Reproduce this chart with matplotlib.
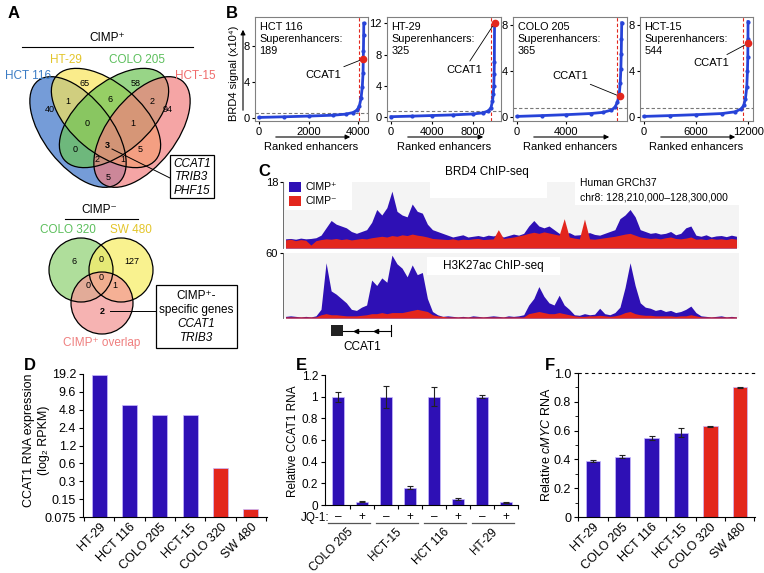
import numpy as np
import matplotlib.pyplot as plt
from matplotlib.patches import Ellipse, Circle, Rectangle
from matplotlib.transforms import blended_transform_factory

plt.rcParams['font.family'] = ['Liberation Sans', 'DejaVu Sans']
plt.rcParams['mathtext.fontset'] = 'custom'
plt.rcParams['mathtext.rm'] = 'Liberation Sans'
plt.rcParams['mathtext.it'] = 'Liberation Sans:italic'
plt.rcParams['font.size'] = 9
plt.rcParams['axes.linewidth'] = 0.8

W, H = 764, 573
BLUE = '#2e10b5'
RED = '#e3261d'

# ---------------- data ----------------
# A: superenhancer-associated genes shared between cell lines
venn4_sets = ['HCT 116', 'HT-29', 'COLO 205', 'HCT-15']
venn4_regions = ['1000', '0100', '0010', '0001', '1100', '0110', '0011', '1110',
                 '0111', '1010', '1111', '0101', '1011', '1101', '1001']
venn4_counts = [40, 65, 58, 94, 1, 6, 2, 0, 1, 0, 3, 5, 2, 1, 5]
shared_genes = ['CCAT1', 'TRIB3', 'PHF15']

venn3_sets = ['COLO 320', 'SW 480', 'CIMP⁺ overlap']
venn3_regions = ['100', '010', '110', '101', '111', '011', '001']
venn3_counts = [6, 127, 0, 0, 0, 1, 2]
specific_genes = ['CCAT1', 'TRIB3']

# B: ranked enhancer plots
b_lines = ['HCT 116', 'HT-29', 'COLO 205', 'HCT-15']
b_n_enh = [4230, 10100, 8550, 12000]
b_n_se = [189, 325, 365, 544]
b_cutoff = [0.6, 0.75, 0.75, 0.75]
b_rank = [
    [0, 1000, 2000, 3000, 3500, 3800, 3950, 4050, 4120, 4170, 4200, 4215, 4225, 4230],
    [0, 2000, 4000, 6000, 8000, 9000, 9500, 9750, 9900, 9980, 10030, 10060, 10080, 10100],
    [0, 2000, 4000, 6000, 7000, 7700, 8000, 8200, 8350, 8430, 8480, 8510, 8530, 8550],
    [0, 3000, 6000, 9000, 10500, 11200, 11500, 11700, 11850, 11930, 11970, 11990, 12000],
]
b_signal = [
    [0.05, 0.12, 0.2, 0.3, 0.42, 0.6, 0.85, 1.3, 2.2, 3.5, 5.0, 7.5, 9.3, 10.6],
    [0.05, 0.12, 0.2, 0.28, 0.4, 0.55, 0.8, 1.2, 2.0, 3.0, 4.0, 5.5, 7.0, 12.0],
    [0.05, 0.12, 0.2, 0.3, 0.4, 0.6, 0.85, 1.3, 2.0, 3.0, 4.2, 5.5, 6.8, 8.2],
    [0.05, 0.12, 0.2, 0.3, 0.45, 0.7, 1.0, 1.6, 2.6, 4.0, 5.2, 6.8, 8.3],
]
b_ccat1_rank = [4210, 10100, 8380, 11985]
b_ccat1_signal = [6.6, 12.0, 1.8, 6.4]
b_xticks = [[0, 2000, 4000], [0, 4000, 8000], [0, 4000], [0, 6000, 12000]]
b_yticks = [[0, 4, 8], [0, 4, 8, 12], [0, 4, 8], [0, 4, 8]]

# C: ChIP-seq tracks, chr8:128,210,000-128,300,000 in 1 kb bins
brd4_pos = [2.5, 2.6, 2.4, 2.7, 2.5, 2.6, 2.8,
            3.5,
            5.5, 7.5, 6.5, 6.0, 5.5,
            4.5, 4.0, 4.5, 5.0,
            7.0, 10.5, 9.0, 11.0,
            15.5, 10.0, 9.0, 8.5, 12.0, 10.0, 9.5,
            6.5, 5.0, 4.5, 4.0,
            3.5, 3.0, 3.3, 3.6, 3.0, 3.2, 3.4, 3.1, 3.5, 3.3, 3.6, 3.0, 3.4, 3.8, 3.5, 4.0,
            6.0, 7.5, 6.0, 5.5, 6.0, 5.0,
            4.0, 3.8, 4.2, 3.5, 3.6, 3.9, 4.2, 3.7, 3.5, 4.0, 4.5, 5.0,
            8.0, 9.0, 10.5, 8.5,
            5.0, 4.5, 4.0, 4.2, 3.8, 4.0, 4.5, 3.6, 4.0, 5.5,
            6.0,
            3.5, 3.2, 3.6, 3.0, 3.3, 3.4, 3.1, 3.5, 3.2]
brd4_neg = [2.2, 2.4, 2.0, 2.3, 2.1, 0.8, 2.0,
            2.3, 2.5, 2.4, 2.6, 2.3, 2.5, 2.2, 2.4, 2.6, 2.5,
            2.8, 3.0, 3.2, 3.0, 3.4, 3.2, 3.6, 3.4, 3.8, 3.5, 3.3, 3.0,
            2.6, 2.5, 2.4, 2.3, 2.5, 2.2, 2.4, 2.3, 2.5, 2.6, 2.3, 2.4, 2.5,
            5.0, 2.6, 2.8, 3.0, 3.3, 3.6,
            4.0, 4.3, 4.0, 4.4, 4.1, 3.8, 3.5,
            8.0, 3.0, 2.7, 2.5, 7.9,
            2.5, 2.4, 2.6, 2.8, 3.0, 3.2, 3.5, 3.8, 4.0, 3.5, 3.0,
            2.8, 2.6, 2.7, 2.5, 2.8, 3.0, 2.6, 2.5, 2.7, 3.0,
            2.4, 2.5, 2.3, 2.6, 2.4, 2.5, 2.3, 2.6, 2.4]
h3_pos = [1.5, 2.0, 1.5, 1.0, 1.5, 1.0, 2.0,
          8.0, 51.0, 25.0,
          22.0, 18.0, 14.0,
          8.0, 7.0, 10.0, 12.0,
          35.0, 30.0, 37.0, 33.0,
          58.0, 50.0, 46.0, 38.0, 49.0, 40.0, 42.0,
          18.0, 6.0, 3.0,
          1.5, 2.0, 1.5, 1.0, 1.5, 1.0, 2.0, 1.5, 1.0, 1.5, 2.0, 1.5, 1.0, 2.0, 1.5, 2.0, 3.0,
          12.0, 18.0, 29.0, 20.0, 14.0, 12.0, 21.0, 12.0, 8.0,
          3.0, 2.5, 4.0, 3.0, 3.5, 9.0,
          4.0, 3.0, 5.0,
          10.0, 28.0, 51.0, 30.0, 14.0, 10.0,
          9.0, 7.0, 8.0, 6.0, 7.0, 5.0,
          6.0, 8.0, 11.0, 5.0,
          2.0, 1.5, 1.0, 1.5, 2.0, 1.0, 1.5, 1.0]
h3_neg = [1.0, 1.0, 1.0, 1.0, 1.0, 1.0, 1.0,
          3.0, 4.0, 3.0, 3.0, 2.5, 2.0,
          2.0, 2.0, 2.5, 3.0,
          4.0, 4.0, 5.0, 4.0, 5.0, 5.0, 5.0, 6.0, 7.0, 8.0, 7.0, 6.0,
          3.0, 2.0, 1.5,
          1.0, 1.0, 1.0, 1.0, 1.0, 1.0, 1.0, 1.0, 1.0, 1.0, 1.0, 1.0, 1.0, 1.0, 1.0, 1.0,
          4.0, 5.0, 6.0, 5.0, 4.0, 4.0, 5.0, 4.0, 3.0,
          2.0, 1.5, 1.5, 2.0, 2.0, 2.5, 2.0, 1.5, 2.0,
          3.0, 5.0, 6.0, 4.0, 3.0, 2.5,
          2.5, 2.0, 2.0, 2.0, 2.0, 1.5, 2.0, 2.0, 3.0, 2.0,
          1.0, 1.0, 1.0, 1.0, 1.0, 1.0, 1.0, 1.0]

# D: CCAT1 RNA-seq
d_lines = ['HT-29', 'HCT 116', 'COLO 205', 'HCT-15', 'COLO 320', 'SW 480']
d_rpkm = [18.5, 5.8, 3.95, 3.85, 0.5, 0.101]
d_cimp = [True, True, True, True, False, False]
d_yticks = [0.075, 0.15, 0.3, 0.6, 1.2, 2.4, 4.8, 9.6, 19.2]

# E: CCAT1 RNA after JQ-1
e_lines = ['COLO 205', 'HCT-15', 'HCT 116', 'HT-29']
e_dmso = [1.0, 1.0, 1.0, 1.0]
e_dmso_err = [0.045, 0.10, 0.09, 0.015]
e_jq1 = [0.03, 0.16, 0.055, 0.025]
e_jq1_err = [0.005, 0.015, 0.01, 0.005]

# F: cMYC RNA
f_lines = ['HT-29', 'COLO 205', 'HCT 116', 'HCT-15', 'COLO 320', 'SW 480']
f_myc = [0.39, 0.42, 0.55, 0.585, 0.63, 0.90]
f_err = [0.006, 0.01, 0.012, 0.03, 0.004, 0.006]
f_cimp = [True, True, True, True, False, False]

# ---------------- figure ----------------
fig = plt.figure(figsize=(W / 100, H / 100), dpi=100)


def px_axes(x0, y0, x1, y1):
    return fig.add_axes([x0 / W, 1 - y1 / H, (x1 - x0) / W, (y1 - y0) / H])


ov = fig.add_axes([0, 0, 1, 1], zorder=10)
ov.set_xlim(0, W)
ov.set_ylim(H, 0)
ov.axis('off')

for letter, x, y in [('A', 8, 13), ('B', 226, 13), ('C', 258, 171),
                     ('D', 24, 366), ('E', 296, 366), ('F', 545, 366)]:
    ov.text(x, y, letter, fontsize=12, fontweight='bold', ha='left', va='center')

# ---- A
ov.text(107, 38, 'CIMP⁺', ha='center', va='center', fontsize=8.5)
ov.plot([22, 193], [47, 47], color='k', lw=0.8)
ell = {'HCT 116': ((78, 132), 130, 68, 52, '#3a72c8', '#3b7cc4'),
       'HT-29': ((106, 118), 130, 70, 40, '#f8e45a', '#e3c52a'),
       'COLO 205': ((114, 118), 130, 70, -40, '#6cc455', '#5cbf5c'),
       'HCT-15': ((142, 132), 130, 68, -52, '#f27f7f', '#ef6b6b')}
label_pos = {'HCT 116': (28, 76), 'HT-29': (66, 60), 'COLO 205': (137, 60), 'HCT-15': (195, 76)}
for name in venn4_sets:
    c, w, h, a, fc, tc = ell[name]
    ov.add_patch(Ellipse(c, w, h, angle=a, facecolor=fc, alpha=0.7, lw=0))
    ov.text(*label_pos[name], name, color=tc, ha='center', va='center', fontsize=8.5)
for name in venn4_sets:
    c, w, h, a, fc, tc = ell[name]
    ov.add_patch(Ellipse(c, w, h, angle=a, fill=False, edgecolor='k', lw=0.9))
region_pos = {'1000': (50, 110), '0100': (85, 84), '0010': (136, 84), '0001': (168, 110),
              '1100': (68, 102), '0110': (110, 100), '0011': (152, 102), '1110': (87, 123),
              '0111': (133, 123), '1010': (75, 150), '1111': (107, 146), '0101': (140, 150),
              '1011': (97, 160), '1101': (123, 160), '1001': (108, 177)}
for reg, n in zip(venn4_regions, venn4_counts):
    ov.text(*region_pos[reg], str(n), ha='center', va='center', fontsize=6.5,
            fontweight='bold' if reg == '1111' else 'normal')
ov.plot([112, 170], [149, 178], color='k', lw=0.7)
ov.add_patch(Rectangle((170, 155), 44, 43, facecolor='white', edgecolor='k', lw=0.9))
for i, g in enumerate(shared_genes):
    ov.text(192, 164 + 13.5 * i, g, style='italic', ha='center', va='center', fontsize=8.5)

ov.text(99, 210, 'CIMP⁻', ha='center', va='center', fontsize=8.5)
ov.plot([65, 138], [219, 219], color='k', lw=0.8)
circ = {'COLO 320': ((81, 270), 32, '#94d47a', '#5cbf5c', (68, 230)),
        'SW 480': ((121, 270), 32, '#f8ee6a', '#e3c52a', (131, 230)),
        'CIMP⁺ overlap': ((102, 303), 31, '#f49a98', '#ef7f7f', (102, 343))}
for name in venn3_sets:
    c, r, fc, tc, lp = circ[name]
    ov.add_patch(Circle(c, r, facecolor=fc, alpha=0.75, lw=0))
    ov.text(*lp, name, color=tc, ha='center', va='center', fontsize=8.5)
for name in venn3_sets:
    c, r = circ[name][:2]
    ov.add_patch(Circle(c, r, fill=False, edgecolor='k', lw=0.9))
region3_pos = {'100': (74, 262), '010': (132, 262), '110': (101, 259), '101': (88, 286),
               '111': (101, 278), '011': (115, 286), '001': (102, 311)}
for reg, n in zip(venn3_regions, venn3_counts):
    ov.text(*region3_pos[reg], str(n), ha='center', va='center', fontsize=6.5,
            fontweight='bold' if reg == '001' else 'normal')
ov.plot([110, 156], [311, 311], color='k', lw=0.7)
ov.add_patch(Rectangle((156, 285), 81, 63, fill=False, edgecolor='k', lw=0.9))
ov.text(196.5, 296, 'CIMP⁺-', ha='center', va='center', fontsize=8.5)
ov.text(196.5, 310, 'specific genes', ha='center', va='center', fontsize=8.5)
for i, g in enumerate(specific_genes):
    ov.text(196.5, 324 + 14 * i, g, style='italic', ha='center', va='center', fontsize=8.5)

# ---- B
b_left = [255, 387, 513, 640]
b_right = [368, 501, 627, 753]
b_xlim = [(-160, 4400), (-390, 10730), (-330, 8980), (-460, 12570)]
b_ylim = [(-0.35, 11.3), (-0.5, 12.8), (-0.35, 8.7), (-0.35, 8.7)]
b_label_px = [(323, 75), (464, 70), (570, 76), (711, 63)]
for i in range(4):
    ax = px_axes(b_left[i], 17, b_right[i], 121)
    ax.plot(b_rank[i], b_signal[i], color='#2743d8', lw=2, marker='o', ms=2, zorder=3)
    ax.axvline(b_n_enh[i] - b_n_se[i], color=RED, ls='--', lw=0.8, dashes=(3, 2))
    ax.axhline(b_cutoff[i], color='#777777', ls='--', lw=0.8, dashes=(3, 2))
    ax.plot(b_ccat1_rank[i], b_ccat1_signal[i], 'o', color=RED, ms=4.5, zorder=4)
    ax.annotate('CCAT1', xy=(b_ccat1_rank[i], b_ccat1_signal[i]),
                xytext=(b_label_px[i][0], H - b_label_px[i][1]), textcoords='figure pixels',
                ha='center', va='center', fontsize=8,
                arrowprops=dict(arrowstyle='-', color='k', lw=0.6, shrinkA=1, shrinkB=2))
    ax.text(0.04, 0.95, f'{b_lines[i]}\nSuperenhancers:\n{b_n_se[i]}', transform=ax.transAxes,
            ha='left', va='top', fontsize=7.8, linespacing=1.25)
    ax.set_xlim(*b_xlim[i])
    ax.set_ylim(*b_ylim[i])
    ax.set_xticks(b_xticks[i])
    ax.set_yticks(b_yticks[i])
    ax.tick_params(labelsize=8, length=2.5, pad=1.5)
    for s in ax.spines.values():
        s.set_color('#808080')
    cx = (b_left[i] + b_right[i]) / 2
    ov.annotate('', xy=(b_right[i] - 15, 137), xytext=(b_left[i] + 18, 137),
                arrowprops=dict(arrowstyle='-|>', color='k', lw=0.8, mutation_scale=7))
    ov.text(cx, 147, 'Ranked enhancers', ha='center', va='center', fontsize=8)
ov.text(234, 73, 'BRD4 signal (x10⁴)', rotation=90, ha='center', va='center', fontsize=8)
ov.annotate('', xy=(243, 27), xytext=(243, 113),
            arrowprops=dict(arrowstyle='-|>', color='k', lw=0.8, mutation_scale=7))

# ---- C
pos = np.arange(len(brd4_pos)) + 0.5
tracks = [((283, 182, 739, 248), brd4_pos, brd4_neg, 18),
          ((283, 253, 739, 318), h3_pos, h3_neg, 60)]
for (x0, y0, x1, y1), vpos, vneg, top in tracks:
    ax = px_axes(x0, y0, x1, y1)
    ax.set_facecolor('#f4f4f4')
    ax.fill_between(pos, vpos, color=BLUE, lw=0, zorder=2)
    ax.fill_between(pos, vneg, color=RED, lw=0, zorder=3)
    ax.set_xlim(0, len(vpos))
    ax.set_ylim(0, top)
    ax.set_yticks([top])
    ax.set_xticks([])
    ax.tick_params(labelsize=8, length=2.5, pad=1)
    for s in ['top', 'right', 'bottom']:
        ax.spines[s].set_visible(False)
    ax.spines['left'].set_color('#555555')
    ax.spines['left'].set_linewidth(0.6)
    if top == 18:
        boxes = [(285, 178, 67, 32), (430, 182, 117, 16), (575, 178, 164, 27)]
    else:
        boxes = [(427, 257, 133, 18)]
    for rx, ry, rw, rh in boxes:
        ax.add_patch(Rectangle((rx, ry), rw, rh, facecolor='white', lw=0, zorder=1.5,
                               transform=ov.transData))
ov.text(487, 172, 'BRD4 ChIP-seq', ha='center', va='center', fontsize=8.5)
ov.text(493, 266, 'H3K27ac ChIP-seq', ha='center', va='center', fontsize=8.5)
ov.add_patch(Rectangle((289, 182), 12, 10, facecolor=BLUE, lw=0))
ov.add_patch(Rectangle((289, 196), 12, 10, facecolor=RED, lw=0))
ov.text(306, 187, 'CIMP⁺', ha='left', va='center', fontsize=7.5)
ov.text(306, 201, 'CIMP⁻', ha='left', va='center', fontsize=7.5)
ov.text(580, 183, 'Human GRCh37', ha='left', va='center', fontsize=7.5)
ov.text(580, 197, 'chr8: 128,210,000–128,300,000', ha='left', va='center', fontsize=7.5)
ov.add_patch(Rectangle((331, 325), 12, 11, facecolor='#222222', lw=0))
ov.plot([343, 391], [330.5, 330.5], color='k', lw=0.8)
ov.plot([391, 391], [325, 336], color='k', lw=0.8)
ov.plot([356, 376], [330.5, 330.5], ls='none', marker='<', color='k', ms=3)
ov.text(362, 347, 'CCAT1', ha='center', va='center', fontsize=8.5)


def style_bar_axes(ax, size=9):
    for s in ['top', 'right']:
        ax.spines[s].set_visible(False)
    ax.tick_params(labelsize=size, length=3, pad=2)


# ---- D
ax = px_axes(83, 374, 267, 517)
xd = np.arange(len(d_lines))
ax.set_yscale('log', base=2)
ax.bar(xd, np.array(d_rpkm) - d_yticks[0], bottom=d_yticks[0], width=0.5,
       color=[BLUE if c else RED for c in d_cimp], edgecolor='#c8b8ff', lw=0.5)
ax.set_ylim(d_yticks[0], d_yticks[-1])
ax.set_yticks(d_yticks)
ax.set_yticklabels([f'{v:g}' for v in d_yticks])
ax.yaxis.set_minor_locator(plt.NullLocator())
ax.set_xlim(-0.53, len(d_lines) - 0.47)
ax.set_xticks(np.arange(len(d_lines) + 1) - 0.5)
ax.set_xticklabels([])
ax.set_xticks(xd, d_lines, minor=True)
ax.tick_params(axis='x', which='minor', length=0, pad=3)
style_bar_axes(ax)
for t in ax.get_xticklabels(minor=True):
    t.set_rotation(45)
    t.set_ha('right')
    t.set_rotation_mode('anchor')
    t.set_fontsize(9)
ov.text(29, 440, 'CCAT1 RNA expression', rotation=90, ha='center', va='center', fontsize=9)
ov.text(44, 440, '(log₂ RPKM)', rotation=90, ha='center', va='center', fontsize=9)

# ---- E
ax = px_axes(325, 375, 518, 505)
xe = np.arange(2 * len(e_lines))
vals = [v for pair in zip(e_dmso, e_jq1) for v in pair]
errs = [v for pair in zip(e_dmso_err, e_jq1_err) for v in pair]
ax.bar(xe, vals, width=0.5, color=BLUE, edgecolor='#c8b8ff', lw=0.5)
ax.errorbar(xe, vals, yerr=errs, fmt='none', ecolor='#222222', elinewidth=0.8, capsize=2,
            capthick=0.8)
ax.set_ylim(0, 1.2)
ax.set_yticks([0, 0.2, 0.4, 0.6, 0.8, 1.0, 1.2])
ax.set_yticklabels(['0', '0.2', '0.4', '0.6', '0.8', '1', '1.2'])
ax.set_xlim(-0.54, len(xe) - 0.5)
ax.set_xticks(xe + 0.5)
ax.set_xticklabels([])
style_bar_axes(ax, 8.5)
tr = blended_transform_factory(ax.transData, ov.transData)
for i in xe:
    ov.text(i, 517, '–' if i % 2 == 0 else '+', transform=tr, ha='center', va='center',
            fontsize=8.5)
ov.text(329, 518, 'JQ-1:', ha='right', va='center', fontsize=8.5)
for g, name in enumerate(e_lines):
    ov.plot([2 * g - 0.42, 2 * g + 1.33], [523, 523], color='#555555', lw=0.9, transform=tr,
            clip_on=False)
    ov.text(2 * g + 0.55, 530, name, transform=tr, rotation=45, ha='right', va='center',
            rotation_mode='anchor', fontsize=8.5)
ov.text(293, 441, 'Relative CCAT1 RNA', rotation=90, ha='center', va='center', fontsize=8.5)

# ---- F
ax = px_axes(578, 373, 755, 517)
xf = np.arange(len(f_lines))
ax.bar(xf, f_myc, width=0.49, color=[BLUE if c else RED for c in f_cimp],
       edgecolor='#c8b8ff', lw=0.5)
ax.errorbar(xf, f_myc, yerr=f_err, fmt='none', ecolor='#222222', elinewidth=0.8, capsize=2,
            capthick=0.8)
ax.axhline(1.0, color='k', ls='--', lw=0.8, dashes=(3, 3), clip_on=False)
ax.set_ylim(0, 1.0)
ax.set_yticks([0, 0.2, 0.4, 0.6, 0.8, 1.0])
ax.set_yticklabels(['0', '0.2', '0.4', '0.6', '0.8', '1.0'])
ax.set_yticks(np.arange(1, 10, 2) / 10, minor=True)
ax.set_xlim(-0.51, len(f_lines) - 0.48)
ax.set_xticks(np.arange(len(f_lines) + 1) - 0.5)
ax.set_xticklabels([])
ax.set_xticks(xf, f_lines, minor=True)
ax.tick_params(axis='x', which='minor', length=0, pad=3)
ax.tick_params(axis='y', which='minor', length=2)
style_bar_axes(ax)
for t in ax.get_xticklabels(minor=True):
    t.set_rotation(45)
    t.set_ha('right')
    t.set_rotation_mode('anchor')
    t.set_fontsize(9)
ov.text(547, 445, r'Relative $\mathit{cMYC}$ RNA', rotation=90, ha='center', va='center',
        fontsize=9)

fig.savefig('out.png', dpi=100)
